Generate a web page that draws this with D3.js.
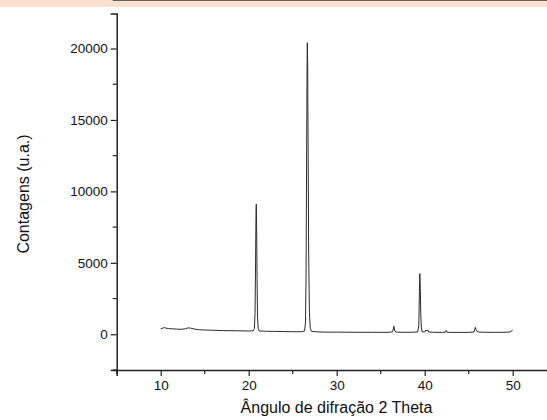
<!DOCTYPE html>
<html>
<head>
<meta charset="utf-8">
<script src="https://cdn.jsdelivr.net/npm/d3@7"></script>
<style>
  body { margin: 0; background: #fff; }
  svg { display: block; font-family: "Liberation Sans", Arial, sans-serif; }
  .axis path, .axis line { stroke: #222; }
  .axis text { fill: #111; font-size: 13.5px; font-family: "Liberation Sans", Arial, sans-serif; }
</style>
</head>
<body>
<div id="chart"></div>
<script>
// 2 theta (deg) and counts
var twoTheta = [10.0, 10.2, 10.4, 10.6, 10.9, 11.3, 11.8, 12.3, 12.8, 13.1, 13.4, 13.8, 14.3, 15.0, 16.0, 17.0, 18.0, 19.0, 20.0, 20.5,
  20.65, 20.72, 20.78, 20.83, 20.86, 20.9, 20.95, 21.0, 21.08, 21.2, 22.0, 23.0, 24.0, 25.0, 26.0,
  26.35, 26.45, 26.52, 26.58, 26.63, 26.66, 26.7, 26.75, 26.82, 26.9, 27.0, 27.15, 28.0, 29.0, 30.0,
  31.0, 32.0, 33.0, 34.0, 35.0, 36.0, 36.35, 36.5, 36.6, 36.75, 37.5, 38.5, 39.2, 39.33, 39.4, 39.45,
  39.5, 39.55, 39.62, 39.7, 40.0, 40.15, 40.25, 40.35, 40.45, 41.0, 42.0, 42.35, 42.45, 42.55, 43.0,
  44.0, 45.0, 45.6, 45.75, 45.85, 45.95, 46.2, 47.0, 48.0, 49.0, 49.7, 50.0];
var counts = [380, 420, 470, 430, 400, 380, 360, 350, 380, 450, 430, 370, 320, 300, 280, 260, 250, 240, 230, 240,
  400, 1500, 5000, 8400, 9100, 7600, 4000, 1200, 400, 230, 210, 200, 190, 180, 180,
  230, 800, 4000, 12000, 18500, 20400, 19000, 13000, 5500, 1500, 400, 200, 160, 150, 150,
  145, 140, 140, 140, 135, 140, 170, 560, 230, 150, 140, 140, 160, 600, 3000, 4250,
  3200, 1500, 450, 180, 160, 300, 230, 300, 160, 140, 130, 140, 270, 140, 130,
  130, 135, 160, 480, 330, 200, 150, 140, 135, 140, 160, 290];

var xMajor = [10, 20, 30, 40, 50];
var xMinor = [5, 15, 25, 35, 45, 55];
var yMajor = [0, 5000, 10000, 15000, 20000];
var yMinor = [-2500, 2500, 7500, 12500, 17500];

var W = 547, H = 420;
var svg = d3.select('#chart').append('svg')
  .attr('width', W)
  .attr('height', H);

// pink strip along the top edge
svg.append('rect')
  .attr('x', 0).attr('y', 0)
  .attr('width', W).attr('height', 7)
  .attr('fill', '#fbdfcf');

var x = d3.scaleLinear().domain([5, 55]).range([116.7, 556.7]);
var y = d3.scaleLinear().domain([-2500, 22450]).range([370, 13.5]);

var left = x(5), bottom = y(-2500), top = y(22450);

// frame top line
svg.append('line')
  .attr('x1', left - 4).attr('x2', W)
  .attr('y1', top).attr('y2', top)
  .attr('stroke', '#333').attr('stroke-width', 1.6);

// x axis
var gx = svg.append('g').attr('class', 'axis')
  .attr('transform', 'translate(0,' + bottom + ')');
gx.call(d3.axisBottom(x).tickValues(xMajor).tickSize(6).tickPadding(4).tickFormat(d3.format('d')));
gx.select('.domain').attr('stroke-width', 1.5);
gx.selectAll('.tick line').attr('stroke-width', 1.2);
gx.selectAll('.minor').data(xMinor).enter().append('line')
  .attr('x1', function(d) { return x(d); })
  .attr('x2', function(d) { return x(d); })
  .attr('y1', 0).attr('y2', 4)
  .attr('stroke', '#222').attr('stroke-width', 1.2);

// y axis
var gy = svg.append('g').attr('class', 'axis')
  .attr('transform', 'translate(' + left + ',0)');
gy.call(d3.axisLeft(y).tickValues(yMajor).tickSize(6).tickPadding(3).tickFormat(d3.format('d')));
gy.select('.domain').attr('stroke-width', 1.5);
gy.selectAll('.tick line').attr('stroke-width', 1.2);
gy.selectAll('.minor').data(yMinor).enter().append('line')
  .attr('x1', 0).attr('x2', -4)
  .attr('y1', function(d) { return y(d); })
  .attr('y2', function(d) { return y(d); })
  .attr('stroke', '#222').attr('stroke-width', 1.2);

// diffractogram
var pts = twoTheta.map(function(t, i) { return [t, counts[i]]; });
var line = d3.line()
  .x(function(d) { return x(d[0]); })
  .y(function(d) { return y(d[1]); });
svg.append('path')
  .datum(pts)
  .attr('d', line)
  .attr('fill', 'none')
  .attr('stroke', '#2a2a2a')
  .attr('stroke-width', 1);

// titles
svg.append('text')
  .attr('x', 336.5).attr('y', 413)
  .attr('text-anchor', 'middle')
  .attr('font-size', '16px')
  .attr('fill', '#111')
  .text('Ângulo de difração 2 Theta');

svg.append('text')
  .attr('transform', 'translate(29,194) rotate(-90)')
  .attr('text-anchor', 'middle')
  .attr('font-size', '16px')
  .attr('fill', '#111')
  .text('Contagens (u.a.)');
</script>
</body>
</html>
